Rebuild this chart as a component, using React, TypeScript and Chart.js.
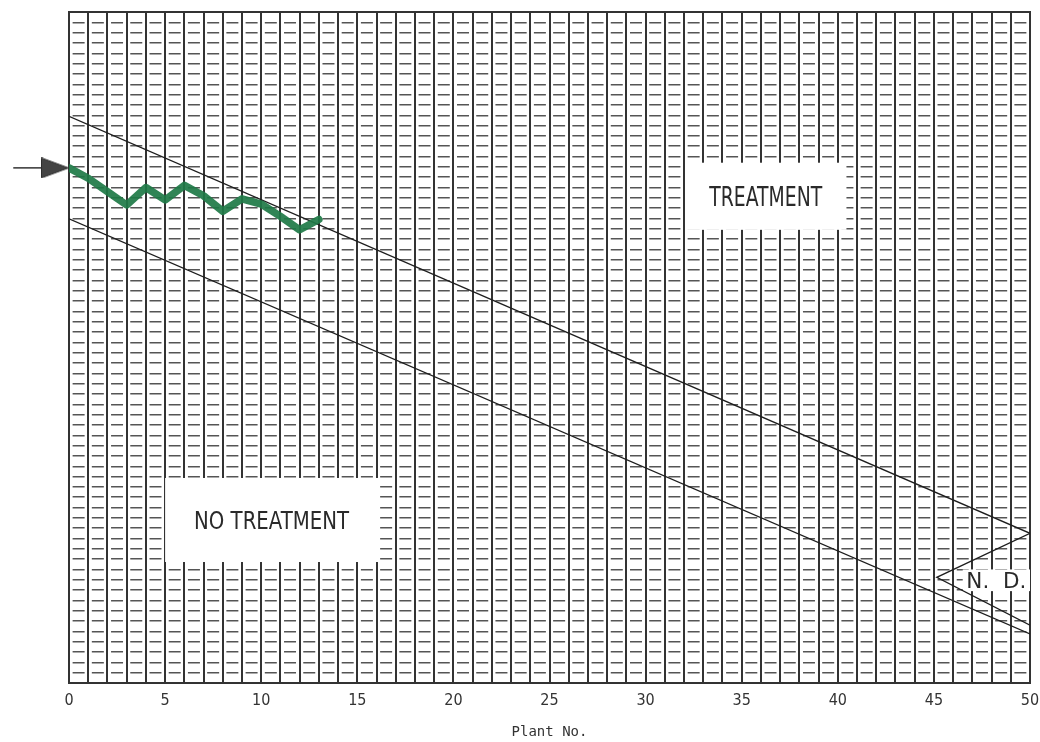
import React, { useEffect, useRef } from 'react';
import { Chart, registerables } from 'chart.js';

Chart.register(...registerables);

// ---- data ----
const plantNo = [0, 1, 2, 3, 4, 5, 6, 7, 8, 9, 10, 11, 12, 13];
const growth = [49.9, 48.9, 47.6, 46.3, 48.0, 46.8, 48.2, 47.2, 45.7, 46.9, 46.4, 45.2, 43.9, 44.9];

const upperX = [0, 50];
const upperY = [54.9, 14.5];
const lowerX = [0, 50];
const lowerY = [44.96, 4.75];
const ndX = [50, 45.15, 50];
const ndY = [14.5, 10.24, 5.6];

const arrowShaftX = [-2.9, -1.4];
const arrowShaftY = [49.9, 49.9];
const arrowHeadX = [-0.73];
const arrowHeadY = [49.9];

const xTickLabels = [0, 5, 10, 15, 20, 25, 30, 35, 40, 45, 50];
const xTitle = 'Plant No.';

const regionText = ['TREATMENT', 'NO TREATMENT', 'N.  D.'];
const regionX1 = [32.05, 5.0, 46.5];
const regionX2 = [40.45, 16.08, 50];
const regionYTop = [50.4, 19.86, 11.0];
const regionYBottom = [43.9, 11.72, 8.9];

// ---- layout constants ----
const W = 1040;
const H = 742;
const PAD_L = 69;
const PAD_R = 10;
const PAD_T = 12;
const X_AXIS_H = 59;
const UNIT_PX = (W - PAD_L - PAD_R) / 50;
const DASH = 12;
const GAP = UNIT_PX - DASH;

const labelFontPx = [27, 25, 22];
const labelWidthPx = [113, 155, 60];

const toPts = (xs: number[], ys: number[]) => xs.map((x, i) => ({ x, y: ys[i] }));

function makeArrowHead(): HTMLCanvasElement {
  const c = document.createElement('canvas');
  c.width = 28;
  c.height = 21;
  const g = c.getContext('2d')!;
  g.fillStyle = '#444444';
  g.strokeStyle = '#2e2e2e';
  g.lineWidth = 1;
  g.beginPath();
  g.moveTo(0.5, 0.5);
  g.lineTo(27.5, 10.5);
  g.lineTo(0.5, 20.5);
  g.closePath();
  g.fill();
  g.stroke();
  return c;
}

const regionPlugin = {
  id: 'regions',
  beforeDatasetsDraw(chart: any) {
    const { ctx, scales } = chart;
    const xs = scales.x;
    const ys = scales.y;
    ctx.save();
    ctx.fillStyle = '#ffffff';
    regionText.forEach((_, i) => {
      const x1 = xs.getPixelForValue(regionX1[i]);
      const x2 = xs.getPixelForValue(regionX2[i]);
      const y1 = ys.getPixelForValue(regionYTop[i]);
      const y2 = ys.getPixelForValue(regionYBottom[i]);
      ctx.fillRect(x1, y1, x2 - x1, y2 - y1);
    });
    ctx.restore();
  },
  afterDatasetsDraw(chart: any) {
    const { ctx, scales } = chart;
    const xs = scales.x;
    const ys = scales.y;
    regionText.forEach((t, i) => {
      const x1 = xs.getPixelForValue(regionX1[i]);
      const x2 = xs.getPixelForValue(regionX2[i]);
      const y1 = ys.getPixelForValue(regionYTop[i]);
      const y2 = ys.getPixelForValue(regionYBottom[i]);
      const cx = (x1 + x2) / 2;
      const cy = (y1 + y2) / 2;
      const fs = labelFontPx[i];
      ctx.save();
      ctx.font = `${fs}px 'DejaVu Sans'`;
      ctx.fillStyle = '#2a2a2a';
      ctx.textAlign = 'center';
      ctx.textBaseline = 'alphabetic';
      const natural = ctx.measureText(t).width;
      const sx = labelWidthPx[i] / natural;
      ctx.translate(cx, cy + fs * 0.365);
      ctx.scale(sx, 1);
      ctx.fillText(t, 0, 0);
      ctx.restore();
    });
  },
};

export default function App() {
  const ref = useRef<HTMLCanvasElement | null>(null);

  useEffect(() => {
    if (!ref.current) return;
    const arrowImg = makeArrowHead();
    const chart = new Chart(ref.current, {
      type: 'line',
      data: {
        datasets: [
          {
            label: 'growth',
            data: toPts(plantNo, growth),
            borderColor: 'rgba(30,122,70,0.92)',
            borderWidth: 7.5,
            borderJoinStyle: 'round',
            borderCapStyle: 'round',
            pointRadius: 0,
            tension: 0,
            fill: false,
          },
          {
            label: 'upper',
            data: toPts(upperX, upperY),
            borderColor: '#1e1e1e',
            borderWidth: 1.3,
            pointRadius: 0,
            fill: false,
          },
          {
            label: 'lower',
            data: toPts(lowerX, lowerY),
            borderColor: '#1e1e1e',
            borderWidth: 1.3,
            pointRadius: 0,
            fill: false,
          },
          {
            label: 'nd',
            data: toPts(ndX, ndY),
            borderColor: '#1e1e1e',
            borderWidth: 1.3,
            pointRadius: 0,
            fill: false,
          },
          {
            label: 'arrowShaft',
            data: toPts(arrowShaftX, arrowShaftY),
            borderColor: '#333333',
            borderWidth: 1.5,
            pointRadius: 0,
            fill: false,
            clip: false,
          },
          {
            label: 'arrowHead',
            data: toPts(arrowHeadX, arrowHeadY),
            showLine: false,
            pointStyle: arrowImg,
            pointRadius: 18,
            pointBorderWidth: 1,
            fill: false,
            clip: false,
          } as any,
        ],
      },
      options: {
        animation: false,
        responsive: false,
        layout: { autoPadding: false, padding: { left: PAD_L, right: PAD_R, top: PAD_T, bottom: 0 } },
        plugins: {
          legend: { display: false },
          tooltip: { enabled: false },
          title: { display: false },
        },
        scales: {
          x: {
            type: 'linear',
            position: 'bottom',
            min: 0,
            max: 50,
            afterFit: (s: any) => {
              s.height = X_AXIS_H;
              s.paddingLeft = 0;
              s.paddingRight = 0;
            },
            ticks: {
              stepSize: 1,
              autoSkip: false,
              maxRotation: 0,
              padding: 8,
              color: '#333333',
              font: { family: "'DejaVu Sans Condensed', 'DejaVu Sans'", size: 16 },
              callback: (v: any) => (xTickLabels.includes(Number(v)) ? String(v) : ''),
            },
            grid: {
              color: '#333333',
              lineWidth: 2,
              drawTicks: false,
            },
            border: { display: true, color: '#333333', width: 2 },
            title: {
              display: true,
              text: xTitle,
              color: '#333333',
              font: { family: "'DejaVu Sans Mono'", size: 14 },
              padding: { top: 0, bottom: 1 },
            },
          },
          xTop: {
            type: 'linear',
            position: 'top',
            min: 0,
            max: 50,
            afterFit: (s: any) => {
              s.height = 0;
              s.paddingLeft = 0;
              s.paddingRight = 0;
            },
            ticks: { display: false },
            grid: { display: false, drawTicks: false },
            border: { display: true, color: '#333333', width: 2 },
          },
          y: {
            type: 'linear',
            min: 0,
            max: 65,
            afterFit: (s: any) => {
              s.width = 0;
            },
            ticks: { display: false, stepSize: 1 },
            grid: {
              color: '#555555',
              lineWidth: 1.4,
              drawTicks: false,
            },
            border: { display: false, dash: [DASH, GAP], dashOffset: DASH + GAP / 2 },
          },
        },
      } as any,
      plugins: [regionPlugin],
    });
    return () => chart.destroy();
  }, []);

  return (
    <div style={{ position: 'absolute', left: 0, top: 0, width: W, height: H, background: '#fff' }}>
      <canvas ref={ref} width={W} height={H} style={{ display: 'block' }} />
    </div>
  );
}
